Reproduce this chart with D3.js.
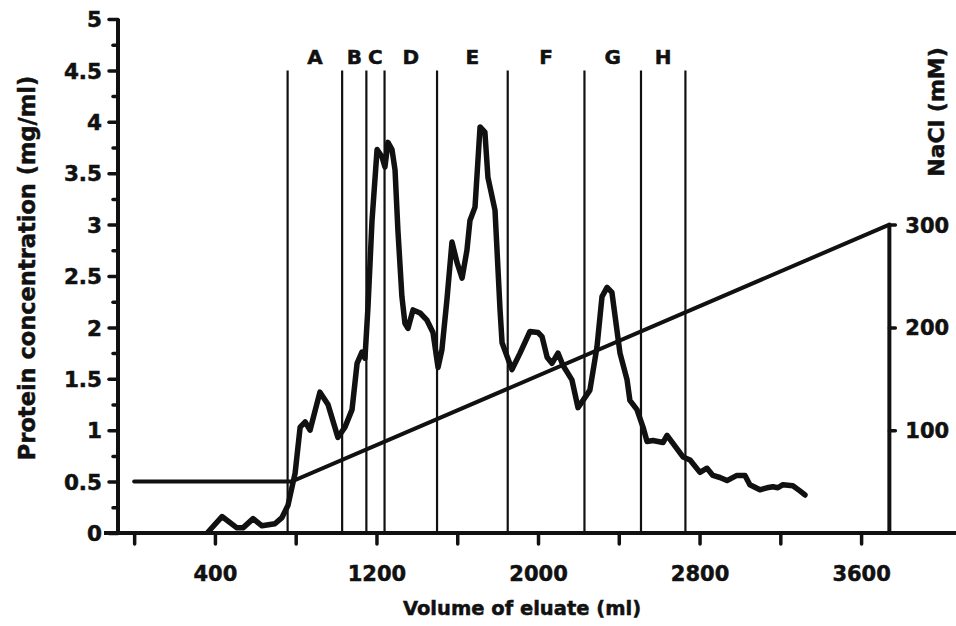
<!DOCTYPE html>
<html>
<head>
<meta charset="utf-8">
<script src="https://cdn.jsdelivr.net/npm/d3@7"></script>
<style>
  body { margin: 0; background: #fff; }
  text { font-family: "DejaVu Sans", "Liberation Sans", Arial, sans-serif; font-weight: bold; fill: #111;
         stroke: #111; stroke-width: 0.5px; }
</style>
</head>
<body>
<div id="chart"></div>
<script>
const width = 956;
const height = 626;

// protein elution profile: volume (ml) and concentration (mg/ml)
const volume = [366, 435, 509, 539, 589, 633, 697, 732, 762, 782, 797, 822, 847, 871, 920, 960,
  1009, 1044, 1079, 1104, 1128, 1143, 1158, 1178, 1203, 1227, 1242, 1257, 1277, 1292, 1306, 1326,
  1341, 1356, 1381, 1416, 1450, 1480, 1505, 1524, 1549, 1574, 1599, 1624, 1648, 1663, 1688, 1713,
  1737, 1752, 1787, 1812, 1822, 1871, 1911, 1960, 2000, 2020, 2045, 2069, 2099, 2124, 2168, 2198,
  2223, 2257, 2292, 2317, 2342, 2366, 2391, 2406, 2441, 2455, 2490, 2520, 2540, 2569, 2619, 2639,
  2718, 2753, 2802, 2837, 2866, 2901, 2936, 2985, 3025, 3049, 3099, 3134, 3163, 3188, 3213, 3262,
  3297, 3322];
const protein = [0.01, 0.16, 0.05, 0.05, 0.14, 0.07, 0.09, 0.15, 0.27, 0.45, 0.58, 1.03, 1.08, 1.00, 1.37, 1.25,
  0.93, 1.03, 1.20, 1.65, 1.76, 1.70, 2.20, 3.04, 3.73, 3.66, 3.56, 3.80, 3.73, 3.53, 2.95, 2.30,
  2.04, 1.99, 2.17, 2.14, 2.07, 1.95, 1.61, 1.78, 2.27, 2.83, 2.63, 2.48, 2.75, 3.04, 3.17, 3.95,
  3.90, 3.46, 3.14, 2.17, 1.85, 1.59, 1.75, 1.96, 1.95, 1.91, 1.71, 1.65, 1.75, 1.63, 1.49, 1.22,
  1.29, 1.39, 1.81, 2.30, 2.39, 2.34, 1.97, 1.75, 1.49, 1.29, 1.20, 1.03, 0.89, 0.90, 0.88, 0.95,
  0.74, 0.71, 0.59, 0.63, 0.56, 0.54, 0.51, 0.56, 0.56, 0.47, 0.42, 0.44, 0.45, 0.44, 0.47, 0.46,
  0.41, 0.37];

// NaCl gradient (ml, mM)
const gradVolume = [0, 780, 3740];
const gradNaCl = [50, 50, 300];

// fraction boundaries (ml) and pool names
const fractionEdges = [760, 1030, 1150, 1240, 1500, 1850, 2230, 2510, 2730];
const fractionNames = ["A", "B", "C", "D", "E", "F", "G", "H"];

const xTicks = [0, 400, 800, 1200, 1600, 2000, 2400, 2800, 3200, 3600];
const xLabels = [400, 1200, 2000, 2800, 3600];
const yMajor = [0, 0.5, 1, 1.5, 2, 2.5, 3, 3.5, 4, 4.5, 5];
const yMinor = [0.25, 0.75, 1.25, 1.75, 2.25, 2.75, 3.25, 3.75, 4.25, 4.75];
const naclTicks = [100, 200, 300];

const svg = d3.select("#chart").append("svg")
    .attr("width", width)
    .attr("height", height);

const x = d3.scaleLinear().domain([-80, 4070]).range([118, 956]);
const y = d3.scaleLinear().domain([0, 5]).range([533, 19]);
const yR = d3.scaleLinear().domain([0, 500]).range([533, 19]);

// fraction lines
svg.append("g").selectAll("line")
    .data(fractionEdges)
    .enter().append("line")
    .attr("x1", d => x(d)).attr("x2", d => x(d))
    .attr("y1", y(0)).attr("y2", y(4.5))
    .attr("stroke", "#111")
    .attr("stroke-width", 2.2);

svg.append("g").selectAll("text")
    .data(fractionNames)
    .enter().append("text")
    .attr("x", (d, i) => x((fractionEdges[i] + fractionEdges[i + 1]) / 2))
    .attr("y", 64)
    .attr("text-anchor", "middle")
    .style("font-size", "20px")
    .text(d => d);

// left axis: minor then major ticks
svg.append("g")
    .attr("transform", `translate(${x(-80)},0)`)
    .call(d3.axisLeft(y).tickValues(yMinor).tickSize(5).tickFormat(""))
    .call(g => g.select(".domain").remove());

svg.append("g")
    .attr("transform", `translate(${x(-80)},0)`)
    .call(d3.axisLeft(y).tickValues(yMajor).tickSize(9).tickPadding(7).tickFormat(d3.format("~g")))
    .call(g => g.select(".domain").remove())
    .call(g => g.selectAll("text").style("font-size", "21.5px").attr("dy", "0.36em"));

// bottom axis
svg.append("g")
    .attr("transform", `translate(0,${y(0)})`)
    .call(d3.axisBottom(x).tickValues(xTicks).tickSize(11).tickPadding(22)
        .tickFormat(d => xLabels.includes(d) ? d : ""))
    .call(g => g.select(".domain").remove())
    .call(g => g.selectAll("text").style("font-size", "21px"));

// right axis (NaCl)
svg.append("g")
    .attr("transform", `translate(${x(3740)},0)`)
    .call(d3.axisRight(yR).tickValues(naclTicks).tickSize(6).tickPadding(10))
    .call(g => g.select(".domain").remove())
    .call(g => g.selectAll("text").style("font-size", "21px").attr("dy", "0.36em"));

svg.selectAll(".tick line")
    .attr("stroke", "#111")
    .attr("stroke-width", 3.5)
    .attr("stroke-linecap", "round");

// axis lines
svg.append("line")
    .attr("x1", 104).attr("x2", width)
    .attr("y1", y(0)).attr("y2", y(0))
    .attr("stroke", "#111").attr("stroke-width", 4);
svg.append("line")
    .attr("x1", x(-80)).attr("x2", x(-80))
    .attr("y1", y(0)).attr("y2", y(5))
    .attr("stroke", "#111").attr("stroke-width", 4);
svg.append("line")
    .attr("x1", x(3740)).attr("x2", x(3740))
    .attr("y1", yR(0)).attr("y2", yR(300))
    .attr("stroke", "#111").attr("stroke-width", 4);

// NaCl gradient
const grad = gradVolume.map((v, i) => [v, gradNaCl[i]]);
svg.append("path")
    .datum(grad)
    .attr("fill", "none")
    .attr("stroke", "#111")
    .attr("stroke-width", 4)
    .attr("stroke-linecap", "round")
    .attr("d", d3.line().x(d => x(d[0])).y(d => yR(d[1])));

// protein profile
const prof = volume.map((v, i) => [v, protein[i]]);
svg.append("path")
    .datum(prof)
    .attr("fill", "none")
    .attr("stroke", "#111")
    .attr("stroke-width", 5.5)
    .attr("stroke-linejoin", "round")
    .attr("stroke-linecap", "round")
    .attr("d", d3.line().x(d => x(d[0])).y(d => y(d[1])));

// axis titles
svg.append("text")
    .attr("x", 522).attr("y", 615)
    .attr("text-anchor", "middle")
    .style("font-size", "19.5px")
    .text("Volume of eluate (ml)");

svg.append("text")
    .attr("transform", "translate(35,268) rotate(-90)")
    .attr("text-anchor", "middle")
    .style("font-size", "22.5px")
    .text("Protein concentration (mg/ml)");

svg.append("text")
    .attr("transform", "translate(944,112) rotate(-90)")
    .attr("text-anchor", "middle")
    .style("font-size", "22px")
    .text("NaCl (mM)");
</script>
</body>
</html>
